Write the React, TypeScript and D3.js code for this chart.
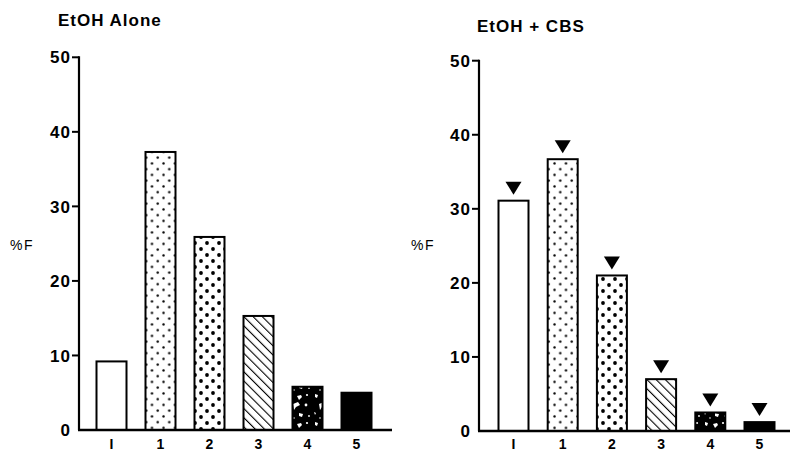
import React from "react";
import * as d3 from "d3";

const categories = ["I", "1", "2", "3", "4", "5"];
const aloneValues = [9.2, 37.3, 25.9, 15.3, 5.8, 5.0];
const cbsValues = [31.1, 36.7, 21.0, 7.0, 2.5, 1.2];
const yTicks = [0, 10, 20, 30, 40, 50];
const fills = ["white", "url(#dotsSmall)", "url(#dotsBig)", "url(#hatch)", "url(#speckle)", "black"];

const FONT = "'Liberation Sans', Arial, Helvetica, sans-serif";

type PanelProps = {
  title: string;
  values: number[];
  showMarkers: boolean;
  axisX: number;
  y0: number;
  y50: number;
  xFirst: number;
  xLast: number;
  baseEnd: number;
  titleX: number;
  titleY: number;
  pctX: number;
};

function Panel(p: PanelProps) {
  const y = d3.scaleLinear().domain([0, 50]).range([p.y0, p.y50]);
  const x = d3.scalePoint<string>().domain(categories).range([p.xFirst, p.xLast]);
  const bw = 30;
  return (
    <g>
      <text x={p.titleX} y={p.titleY} fontFamily={FONT} fontWeight="bold" fontSize={17} letterSpacing={1}>
        {p.title}
      </text>
      <text x={p.pctX} y={250} fontFamily={FONT} fontSize={14} letterSpacing={1.5}>
        %F
      </text>
      {/* y axis */}
      <line x1={p.axisX} x2={p.axisX} y1={y(50) - 1} y2={y(0)} stroke="black" strokeWidth={2.2} />
      {yTicks.map((t) => (
        <g key={t}>
          {t > 0 && (
            <line x1={p.axisX - 7} x2={p.axisX} y1={y(t)} y2={y(t)} stroke="black" strokeWidth={2} />
          )}
          <text
            x={p.axisX - 8}
            y={y(t)}
            dy="0.36em"
            textAnchor="end"
            fontFamily={FONT}
            fontWeight="bold"
            fontSize={17}
            letterSpacing={1}
          >
            {t}
          </text>
        </g>
      ))}
      {/* bars */}
      {p.values.map((v, i) => {
        const cx = x(categories[i]) as number;
        const top = y(v);
        return (
          <g key={i}>
            <rect
              x={cx - bw / 2}
              y={top}
              width={bw}
              height={y(0) - top}
              fill={fills[i]}
              stroke="black"
              strokeWidth={2}
            />
            {p.showMarkers && (
              <path
                d={`M${cx - 8},${top - 19} L${cx + 8},${top - 19} L${cx},${top - 6} Z`}
                fill="black"
              />
            )}
          </g>
        );
      })}
      {/* baseline */}
      <line x1={p.axisX - 1} x2={p.baseEnd} y1={y(0)} y2={y(0)} stroke="black" strokeWidth={2.6} />
      {categories.map((c) => (
        <text
          key={c}
          x={x(c) as number}
          y={449}
          textAnchor="middle"
          fontFamily={FONT}
          fontWeight="bold"
          fontSize={14}
        >
          {c}
        </text>
      ))}
    </g>
  );
}

export default function App() {
  return (
    <div style={{ position: "absolute", left: 0, top: 0 }}>
      <svg width={790} height={454} style={{ display: "block", background: "white" }}>
        <defs>
          <pattern id="dotsSmall" width={11.5} height={11.5} patternUnits="userSpaceOnUse">
            <rect width={11.5} height={11.5} fill="white" />
            <circle cx={2.5} cy={2.5} r={1.2} fill="black" />
            <circle cx={8.25} cy={8.25} r={1.2} fill="black" />
          </pattern>
          <pattern id="dotsBig" width={12} height={12} patternUnits="userSpaceOnUse">
            <rect width={12} height={12} fill="white" />
            <circle cx={3} cy={3} r={1.9} fill="black" />
            <circle cx={9} cy={9} r={1.9} fill="black" />
          </pattern>
          <pattern
            id="hatch"
            width={6.5}
            height={6.5}
            patternUnits="userSpaceOnUse"
            patternTransform="rotate(-45)"
          >
            <rect width={6.5} height={6.5} fill="white" />
            <line x1={0} y1={0} x2={0} y2={6.5} stroke="black" strokeWidth={2.2} />
          </pattern>
          <pattern id="speckle" width={26} height={28} patternUnits="userSpaceOnUse">
            <rect width={26} height={28} fill="black" />
            <path d="M3,2 l3,1 l-1,3 l-2,-1 z" fill="white" />
            <path d="M11,4 l4,-1 l1,2 l-3,3 z" fill="white" />
            <circle cx={21} cy={3} r={1.1} fill="white" />
            <path d="M7,12 l5,-2 l2,3 l-4,2 l-2,3 z" fill="white" />
            <circle cx={20} cy={13} r={1.4} fill="white" />
            <path d="M2,20 l2,1 l-1,2 z" fill="white" />
            <path d="M13,21 l4,1 l-1,3 l-3,-1 z" fill="white" />
            <circle cx={23} cy={24} r={0.9} fill="white" />
            <circle cx={8} cy={26} r={0.8} fill="white" />
          </pattern>
        </defs>
        <Panel
          title="EtOH Alone"
          values={aloneValues}
          showMarkers={false}
          axisX={79}
          y0={430}
          y50={57.3}
          xFirst={111.5}
          xLast={356.5}
          baseEnd={392}
          titleX={58}
          titleY={26}
          pctX={10}
        />
        <Panel
          title="EtOH + CBS"
          values={cbsValues}
          showMarkers={true}
          axisX={479}
          y0={431}
          y50={60.7}
          xFirst={513.5}
          xLast={759.5}
          baseEnd={790}
          titleX={477}
          titleY={32}
          pctX={411}
        />
      </svg>
    </div>
  );
}
